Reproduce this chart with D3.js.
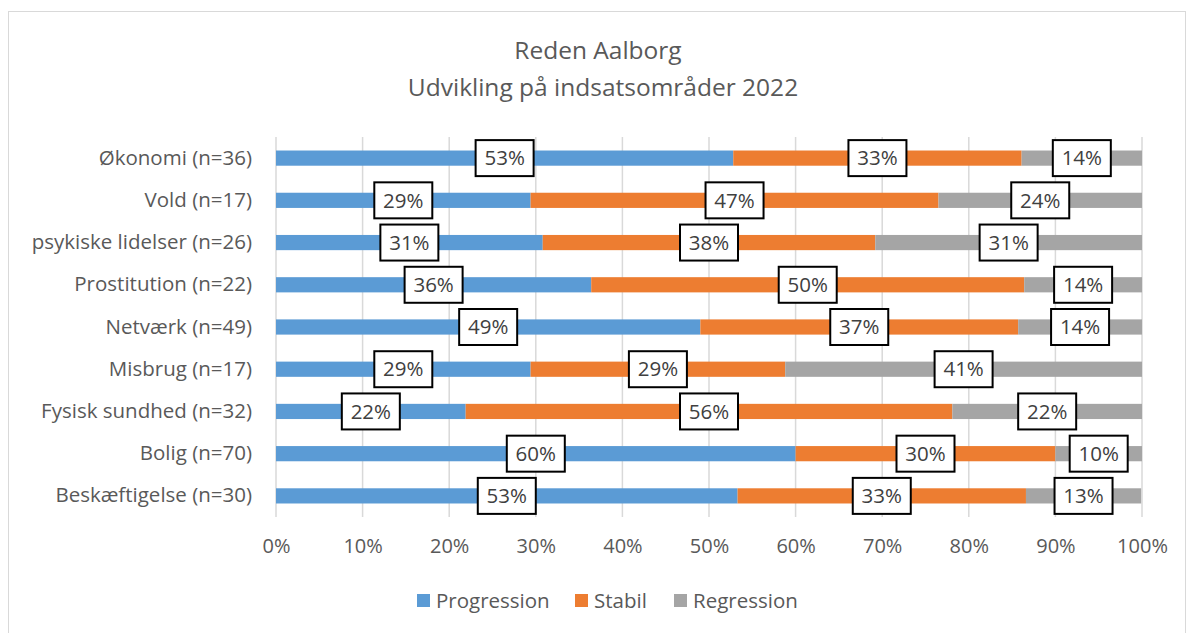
<!DOCTYPE html>
<html>
<head>
<meta charset="utf-8">
<script src="https://cdn.jsdelivr.net/npm/d3@7"></script>
<style>
  body { margin: 0; background: #fff; }
  text { font-family: "Open Sans", sans-serif; fill: #595959; }
</style>
</head>
<body>
<div id="chart"></div>
<script>
// categories top to bottom
var categories = ["Økonomi (n=36)", "Vold (n=17)", "psykiske lidelser (n=26)", "Prostitution (n=22)",
    "Netværk (n=49)", "Misbrug (n=17)", "Fysisk sundhed (n=32)", "Bolig (n=70)", "Beskæftigelse (n=30)"];
// shares in percent
var progression = [52.8, 29.4, 30.8, 36.4, 49.0, 29.4, 21.9, 60.0, 53.3];
var stabil      = [33.3, 47.1, 38.4, 50.0, 36.7, 29.4, 56.2, 30.0, 33.3];
var regression  = [13.9, 23.5, 30.8, 13.6, 14.3, 41.2, 21.9, 10.0, 13.3];
var seriesNames = ["Progression", "Stabil", "Regression"];
var colors = ["#5b9bd5", "#ed7d31", "#a5a5a5"];
var xTicks = [0, 10, 20, 30, 40, 50, 60, 70, 80, 90, 100];

var W = 1192, H = 633;
var margin = {top: 137, right: 50, bottom: 116, left: 276},
    width = W - margin.left - margin.right,
    height = H - margin.top - margin.bottom;

var rows = categories.map(function (c, i) {
    return {cat: c, Progression: progression[i], Stabil: stabil[i], Regression: regression[i]};
});

var stack = d3.stack().keys(seriesNames)(rows);

var svg0 = d3.select("#chart").append("svg")
    .attr("width", W)
    .attr("height", H);

// outer frame
svg0.append("rect")
    .attr("x", 8.5).attr("y", 11.5)
    .attr("width", 1177).attr("height", 640)
    .attr("fill", "none")
    .attr("stroke", "#d9d9d9");

svg0.append("text")
    .attr("x", 598).attr("y", 59)
    .attr("text-anchor", "middle")
    .style("font-size", "24.5px")
    .text("Reden Aalborg");
svg0.append("text")
    .attr("x", 603).attr("y", 96)
    .attr("text-anchor", "middle")
    .style("font-size", "24.5px")
    .text("Udvikling på indsatsområder 2022");

var svg = svg0.append("g")
    .attr("transform", "translate(" + margin.left + "," + margin.top + ")");

var xScale = d3.scaleLinear().domain([0, 100]).range([0, width]);
var yScale = d3.scaleBand().domain(categories).range([0, height]).paddingInner(0.64).paddingOuter(0.32);

// gridlines
svg.selectAll(".grid")
    .data(xTicks)
    .join("line")
    .attr("x1", d => xScale(d)).attr("x2", d => xScale(d))
    .attr("y1", 0).attr("y2", height)
    .attr("stroke", "#d9d9d9")
    .attr("stroke-width", 1.5);

var xAxis = d3.axisBottom(xScale)
    .tickValues(xTicks)
    .tickSize(0)
    .tickPadding(22)
    .tickFormat(d => d + "%");

var yAxis = d3.axisLeft(yScale)
    .tickSize(0)
    .tickPadding(24);

var gx = svg.append("g")
    .attr("transform", "translate(0," + height + ")")
    .call(xAxis);
gx.select(".domain").remove();
gx.selectAll("text").style("font-size", "20px").attr("fill", "#595959");

var gy = svg.append("g").call(yAxis);
gy.select(".domain").remove();
gy.selectAll("text").style("font-size", "20.5px").attr("fill", "#595959");

// bars
var layers = svg.selectAll(".layer")
    .data(stack)
    .join("g")
    .attr("fill", (d, i) => colors[i]);

layers.selectAll("rect")
    .data(d => d)
    .join("rect")
    .attr("x", d => xScale(d[0]))
    .attr("width", d => xScale(d[1]) - xScale(d[0]))
    .attr("y", d => yScale(d.data.cat))
    .attr("height", yScale.bandwidth());

// data labels
var labels = [];
stack.forEach(function (s) {
    s.forEach(function (d) {
        labels.push({cx: xScale((d[0] + d[1]) / 2), cy: yScale(d.data.cat) + yScale.bandwidth() / 2,
            txt: Math.round(d[1] - d[0]) + "%"});
    });
});

var lab = svg.selectAll(".lab")
    .data(labels)
    .join("g")
    .attr("transform", d => "translate(" + d.cx + "," + d.cy + ")");

lab.append("rect")
    .attr("x", -29).attr("y", -18)
    .attr("width", 58).attr("height", 36)
    .attr("fill", "#fff")
    .attr("stroke", "#000")
    .attr("stroke-width", 2);

lab.append("text")
    .attr("text-anchor", "middle")
    .attr("dy", "0.35em")
    .style("font-size", "20.5px")
    .style("fill", "#404040")
    .text(d => d.txt);

// legend
var legX = [417, 575, 674];
var leg = svg0.selectAll(".leg")
    .data(seriesNames)
    .join("g")
    .attr("transform", (d, i) => "translate(" + legX[i] + ",594)");
leg.append("rect")
    .attr("width", 13).attr("height", 13)
    .attr("fill", (d, i) => colors[i]);
leg.append("text")
    .attr("x", 19).attr("y", 7)
    .attr("dy", "0.35em")
    .style("font-size", "20.5px")
    .text(d => d);
</script>
</body>
</html>
